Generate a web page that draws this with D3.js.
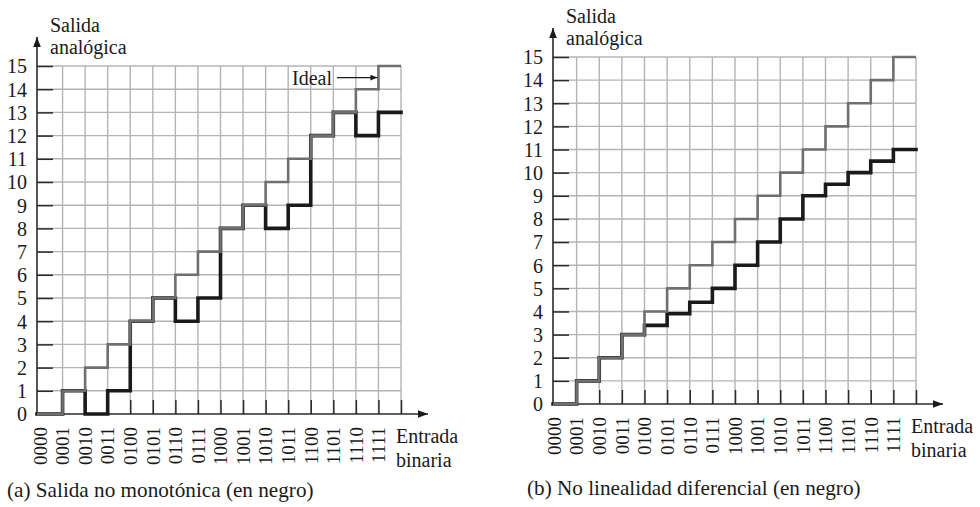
<!DOCTYPE html>
<html><head><meta charset="utf-8">
<script src="https://cdn.jsdelivr.net/npm/d3@7"></script>
<style>
html,body{margin:0;padding:0;background:#fff;}
svg{display:block;}
</style></head>
<body>
<svg id="chart" width="980" height="507"></svg>
<script>
// ---- data ----
const codes = ["0000","0001","0010","0011","0100","0101","0110","0111",
               "1000","1001","1010","1011","1100","1101","1110","1111"];
const yTicks = [0,1,2,3,4,5,6,7,8,9,10,11,12,13,14,15];
const idealOut = [0,1,2,3,4,5,6,7,8,9,10,11,12,13,14,15];
const nonMonotonicOut = [0,1,0,1,4,5,4,5,8,9,8,9,12,13,12,13];
const dnlOut = [0,1,2,3,3.4,3.9,4.4,5,6,7,8,9,9.5,10,10.5,11];
const yTitle = ["Salida","analógica"];
const xTitle = ["Entrada","binaria"];
const captionA = "(a) Salida no monotónica (en negro)";
const captionB = "(b) No linealidad diferencial (en negro)";
const idealLabel = "Ideal";

const FONT = "'Liberation Serif','Times New Roman','DejaVu Serif',serif";
const svg = d3.select("#chart");
const defs = svg.append("defs");
defs.append("marker").attr("id","arr").attr("viewBox","0 0 10 10")
  .attr("refX",10).attr("refY",5).attr("markerWidth",10).attr("markerHeight",10)
  .attr("markerUnits","userSpaceOnUse").attr("orient","auto")
  .append("path").attr("d","M0,1.2 L10,5 L0,8.8 Z").attr("fill","#1a1a1a");
defs.append("marker").attr("id","arrs").attr("viewBox","0 0 10 10")
  .attr("refX",10).attr("refY",5).attr("markerWidth",9).attr("markerHeight",7)
  .attr("markerUnits","userSpaceOnUse").attr("orient","auto")
  .append("path").attr("d","M0,1 L10,5 L0,9 Z").attr("fill","#1a1a1a");

const GRID = "#b4b4b4", AX = "#2a2a2a", GRAY = "#6f6f6f", BLACK = "#1a1a1a";

function styleText(sel, size){
  sel.style("font-family",FONT).style("font-size",size+"px").attr("fill","#1a1a1a");
}

function panel(cfg){
  const g = svg.append("g");
  const x = d3.scaleLinear().domain([0,16]).range([cfg.x0, cfg.x1]);
  const y = d3.scaleLinear().domain([0,15]).range([cfg.y0, cfg.y1]);
  const ax = cfg.axisX;

  // grid
  g.append("g").selectAll("line").data(d3.range(1,17)).join("line")
    .attr("x1",d=>x(d)).attr("x2",d=>x(d)).attr("y1",y(0)).attr("y2",y(15))
    .attr("stroke",GRID).attr("stroke-width",1.4);
  g.append("g").selectAll("line").data(yTicks.slice(1)).join("line")
    .attr("x1",ax).attr("x2",x(16)).attr("y1",d=>y(d)).attr("y2",d=>y(d))
    .attr("stroke",GRID).attr("stroke-width",1.4);

  // y axis (ticks pointing inside + labels)
  const yAx = g.append("g").attr("transform",`translate(${ax},0)`)
    .call(d3.axisLeft(y).tickValues(yTicks).tickSize(-16).tickPadding(10).tickFormat(d=>d));
  yAx.select(".domain").remove();
  yAx.selectAll(".tick line").attr("stroke",AX).attr("stroke-width",1.5)
    .filter(d=>d===0).remove();
  styleText(yAx.selectAll(".tick text").attr("dy","0.34em"), 20);

  // x axis ticks (pointing up)
  const xTk = g.append("g").attr("transform",`translate(0,${y(0)})`)
    .call(d3.axisBottom(x).tickValues(d3.range(1,17)).tickSize(-14).tickFormat(""));
  xTk.select(".domain").remove();
  xTk.selectAll(".tick line").attr("stroke",AX).attr("stroke-width",1.5);

  // x labels (rotated)
  const xLb = g.append("g").attr("transform",`translate(0,${y(0)})`)
    .call(d3.axisBottom(x).tickValues(d3.range(0,16)).tickSize(0).tickFormat(i=>codes[i]));
  xLb.select(".domain").remove();
  styleText(xLb.selectAll(".tick text")
    .attr("transform","rotate(-90)").attr("text-anchor","end")
    .attr("x",-13).attr("y",0).attr("dy","0.33em"), 19);

  // axes lines with arrows
  g.append("line").attr("x1",ax).attr("x2",ax).attr("y1",y(0)).attr("y2",y(15)-29)
    .attr("stroke",AX).attr("stroke-width",1.6).attr("marker-end","url(#arr)");
  g.append("line").attr("x1",ax).attr("x2",x(16)+27).attr("y1",y(0)).attr("y2",y(0))
    .attr("stroke",AX).attr("stroke-width",1.6).attr("marker-end","url(#arr)");

  // staircases
  const line = d3.line().curve(d3.curveStepAfter)
    .x(d=>d[0]===0 ? ax : x(d[0])).y(d=>y(d[1]));
  const pts = vals => vals.map((v,i)=>[i,v]).concat([[16, vals[vals.length-1]]]);
  g.append("path").attr("d",line(pts(cfg.black))).attr("fill","none")
    .attr("stroke",BLACK).attr("stroke-width",3.6).attr("stroke-linejoin","miter").attr("stroke-linecap","square");
  g.append("path").attr("d",line(pts(idealOut))).attr("fill","none")
    .attr("stroke",GRAY).attr("stroke-width",2.6).attr("stroke-linejoin","miter");

  // titles
  styleText(g.append("text").attr("x",ax+13).attr("y",y(15)-34.5).text(yTitle[0]), 20);
  styleText(g.append("text").attr("x",ax+13).attr("y",y(15)-12).text(yTitle[1]), 20);
  styleText(g.append("text").attr("x",x(16)-5).attr("y",y(0)+29).text(xTitle[0]), 20);
  styleText(g.append("text").attr("x",x(16)-5).attr("y",y(0)+53).text(xTitle[1]), 20);
  styleText(g.append("text").attr("x",cfg.capX).attr("y",cfg.capY).text(cfg.caption), 21.2);
  return {g,x,y};
}

const A = panel({axisX:37, x0:40, x1:401, y0:414, y1:66, black:nonMonotonicOut,
                 caption:captionA, capX:7, capY:497});
panel({axisX:553, x0:554, x1:916, y0:404, y1:57, black:dnlOut,
       caption:captionB, capX:527, capY:495});

// "Ideal" annotation (left panel)
styleText(A.g.append("text").attr("x",A.x(11.17)).attr("y",A.y(14.5)+7).text(idealLabel), 20);
A.g.append("line").attr("x1",A.x(13.16)).attr("x2",A.x(15)-1)
  .attr("y1",A.y(14.5)).attr("y2",A.y(14.5))
  .attr("stroke",BLACK).attr("stroke-width",1.3).attr("marker-end","url(#arrs)");
</script>
</body></html>
